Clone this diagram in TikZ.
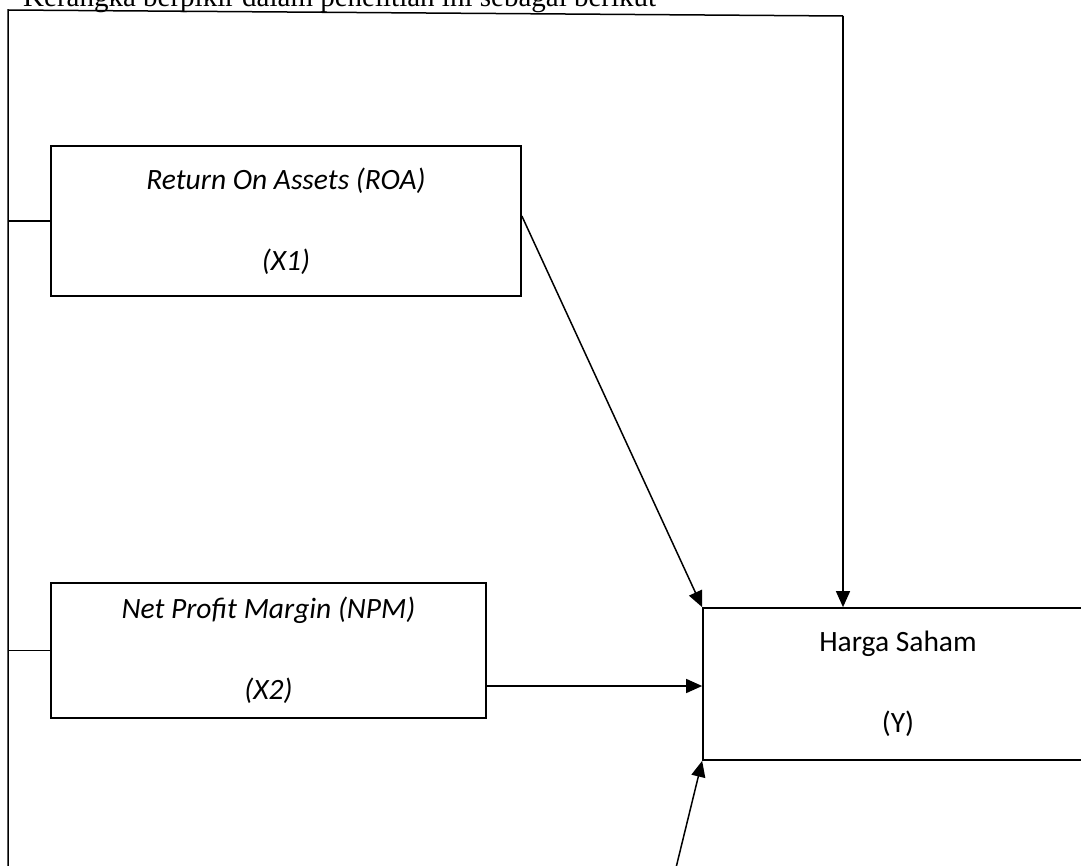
\documentclass[tikz,border=0pt]{standalone}
\usepackage{fontspec}
\setmainfont{Carlito}
\newfontfamily\serifhead{Liberation Serif}
\usetikzlibrary{arrows.meta}
\begin{document}
\begin{tikzpicture}[x=1pt,y=-1pt,
  box/.style={draw,line width=1.7pt,inner sep=0pt,align=center,
    font=\fontsize{29.5}{35}\selectfont},
  conn/.style={line width=1.5pt},
  arr/.style={conn,-{Triangle[length=16pt,width=14pt]}}]
\useasboundingbox (0,0) rectangle (1081,866);
\clip (0,0) rectangle (1081,866);
\node[anchor=base west,inner sep=0pt,font=\serifhead\fontsize{29}{34}\selectfont] (head) at (23,7)
  {Kerangka berpikir dalam penelitian ini sebagai berikut};
\node[box,minimum width=470pt,minimum height=150pt] (roa) at (286,221)
  {\itshape Return On Assets (ROA)\\[46pt]\itshape (X1)};
\node[box,minimum width=435pt,minimum height=135pt] (npm) at (268.5,650.5)
  {\itshape Net Profit Margin (NPM)\\[46pt]\itshape (X2)};
\node[box,minimum width=390pt,minimum height=152pt] (y) at (898,684)
  {Harga Saham\\[46pt](Y)};
\coordinate (bl) at (8,880);
\coordinate (tl) at (8,10);
\coordinate (tr) at (843,16);
\coordinate (b) at (673,880);
\draw[conn] (bl) -- (tl) -- (tr);
\draw[arr] (tr) -- (tr |- y.north);
\draw[conn] (roa.west) -- (roa.west -| tl);
\draw[conn] (npm.west) -- (npm.west -| tl);
\draw[arr] ([yshift=5pt]roa.east) -- (y.north west);
\draw[arr] ([yshift=-2pt]y.west -| npm.east) -- ([yshift=-2pt]y.west);
\draw[arr] (b) -- (y.south west);
\end{tikzpicture}
\end{document}
